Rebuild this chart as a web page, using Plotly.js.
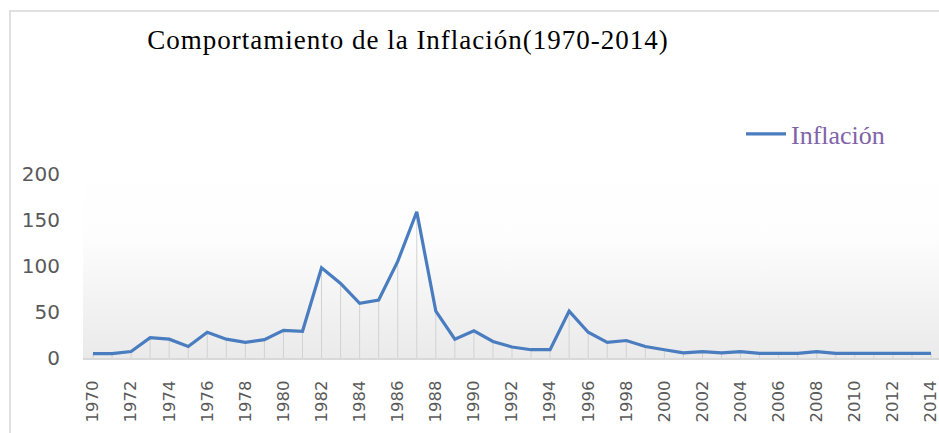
<!DOCTYPE html>
<html>
<head>
<meta charset="utf-8">
<script src="https://cdn.plot.ly/plotly-3.0.1.min.js"></script>
<style>
  html, body { margin: 0; padding: 0; background: #ffffff; overflow: hidden; }
  #wrap { position: relative; width: 939px; height: 433px; }
  #chart { position: absolute; left: 0; top: 0; width: 939px; height: 433px; }
  #frame { position: absolute; left: 9px; top: 10px; width: 940px; height: 430px;
           border-top: 2px solid #e0e0e0; border-left: 2px solid #e0e0e0; pointer-events: none; }
  .gtitle { letter-spacing: 1px; }
</style>
</head>
<body>
<div id="wrap">
  <div id="chart"></div>
  <div id="frame"></div>
</div>
<script>
// Data
const years = [1970, 1971, 1972, 1973, 1974, 1975, 1976, 1977, 1978, 1979,
               1980, 1981, 1982, 1983, 1984, 1985, 1986, 1987, 1988, 1989,
               1990, 1991, 1992, 1993, 1994, 1995, 1996, 1997, 1998, 1999,
               2000, 2001, 2002, 2003, 2004, 2005, 2006, 2007, 2008, 2009,
               2010, 2011, 2012, 2013, 2014];
const inflacion = [4.7, 4.7, 7, 22, 20.5, 12.5, 28, 20.5, 17, 20,
                   30, 29, 98, 81, 59.5, 63, 105, 159, 51, 20.5,
                   29.5, 18, 12, 9, 9, 51, 28, 17, 19, 12.5,
                   9, 5.5, 7, 5.5, 7, 5, 5, 5, 7, 5,
                   5, 5, 5, 5, 5];
const seriesName = 'Inflación';
const chartTitle = 'Comportamiento de la Inflación(1970-2014)';
const yTicks = [0, 50, 100, 150, 200];

const zeros = inflacion.map(() => 0);

const gradSvg = "<svg xmlns='http://www.w3.org/2000/svg' width='10' height='100' preserveAspectRatio='none'>" +
  "<defs><linearGradient id='g' x1='0' y1='0' x2='0' y2='1'>" +
  "<stop offset='0' stop-color='#ffffff'/>" +
  "<stop offset='0.35' stop-color='#fdfdfd'/>" +
  "<stop offset='1' stop-color='#eaeaea'/>" +
  "</linearGradient></defs><rect width='10' height='100' fill='url(#g)'/></svg>";
const gradUri = 'data:image/svg+xml;charset=utf-8,' + encodeURIComponent(gradSvg);

const dropTrace = {
  x: years, y: inflacion, type: 'scatter', mode: 'markers',
  marker: {size: 1, opacity: 0},
  showlegend: false, hoverinfo: 'skip',
  error_y: {type: 'data', symmetric: false, array: zeros, arrayminus: inflacion,
            width: 0, thickness: 1, color: '#d2d2d2'}
};
const lineTrace = {
  x: years, y: inflacion, type: 'scatter', mode: 'lines', name: seriesName,
  line: {color: '#4a7dc0', width: 3.2}
};

const layout = {
  width: 939, height: 433,
  margin: {l: 83, r: 0, t: 174, b: 75},
  paper_bgcolor: 'rgba(0,0,0,0)',
  plot_bgcolor: 'rgba(0,0,0,0)',
  title: {
    text: chartTitle,
    font: {family: 'Liberation Serif, Times New Roman, serif', size: 27, color: '#000000'},
    x: 408 / 939, xref: 'container', xanchor: 'center',
    y: 1 - 40 / 433, yref: 'container', yanchor: 'middle'
  },
  showlegend: true,
  legend: {
    x: (741 - 83) / 856, xanchor: 'left', y: (358 - 134) / 184, yanchor: 'middle',
    itemwidth: 40,
    font: {family: 'Liberation Serif, Times New Roman, serif', size: 26, color: '#7f63a8'},
    bgcolor: 'rgba(0,0,0,0)', borderwidth: 0
  },
  xaxis: {
    type: 'linear', range: [1969.475, 2014.42],
    tick0: 1970, dtick: 2, tickangle: -90,
    showgrid: false, zeroline: false,
    showline: true, linecolor: '#d9d9d9', linewidth: 2,
    ticks: '', ticklabelstandoff: 14, ticklabeloverflow: 'allow',
    tickfont: {family: 'DejaVu Sans, sans-serif', size: 16.5, color: '#595959'}
  },
  yaxis: {
    range: [0, 200], tickvals: yTicks, ticktext: yTicks.map(String),
    showgrid: false, zeroline: false, showline: false,
    ticks: '', ticklabelstandoff: 22,
    tickfont: {family: 'DejaVu Sans, sans-serif', size: 20, color: '#595959'}
  },
  images: [{
    source: gradUri, xref: 'paper', yref: 'paper', x: 0, y: 1, sizex: 1, sizey: 1,
    xanchor: 'left', yanchor: 'top', sizing: 'stretch', layer: 'below'
  }]
};

Plotly.newPlot('chart', [dropTrace, lineTrace], layout, {displayModeBar: false, staticPlot: true});
</script>
</body>
</html>
